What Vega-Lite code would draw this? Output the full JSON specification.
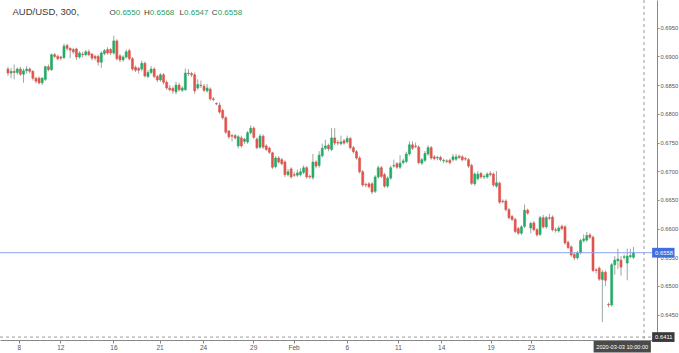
{
"$schema":"https://vega.github.io/schema/vega-lite/v6.json",
"width":657,"height":340,
"autosize":{"type":"none"},
"padding":{"left":0,"top":0,"right":22,"bottom":13},
"background":"white",
"config":{"view":{"stroke":null},"font":"Liberation Sans","axis":{"labelOverlap":false,"labelFlush":false,"labelBound":false}},
"title":{"text":"AUD/USD, 300,","anchor":"start","fontSize":9.5,"fontWeight":"normal","color":"#3a3a3a","offset":-17,"dx":13,"font":"Liberation Sans"},
"datasets":{"candles":[
{"i":0,"o":0.6878,"h":0.6882,"l":0.6866,"c":0.6871},
{"i":1,"o":0.6871,"h":0.6880,"l":0.6862,"c":0.6874},
{"i":2,"o":0.6874,"h":0.6886,"l":0.6860,"c":0.6872},
{"i":3,"o":0.6872,"h":0.6881,"l":0.6868,"c":0.6878},
{"i":4,"o":0.6878,"h":0.6882,"l":0.6866,"c":0.6869},
{"i":5,"o":0.6869,"h":0.6879,"l":0.6854,"c":0.6875},
{"i":6,"o":0.6875,"h":0.6883,"l":0.6870,"c":0.6878},
{"i":7,"o":0.6878,"h":0.6881,"l":0.6870,"c":0.6874},
{"i":8,"o":0.6874,"h":0.6876,"l":0.6858,"c":0.6862},
{"i":9,"o":0.6862,"h":0.6864,"l":0.6853,"c":0.6857},
{"i":10,"o":0.6862,"h":0.6865,"l":0.6851,"c":0.6854},
{"i":11,"o":0.6854,"h":0.6864,"l":0.6850,"c":0.6862},
{"i":12,"o":0.6860,"h":0.6884,"l":0.6857,"c":0.6882},
{"i":13,"o":0.6882,"h":0.6886,"l":0.6874,"c":0.6877},
{"i":14,"o":0.6877,"h":0.6905,"l":0.6875,"c":0.6903},
{"i":15,"o":0.6903,"h":0.6906,"l":0.6897,"c":0.6900},
{"i":16,"o":0.6900,"h":0.6903,"l":0.6893,"c":0.6896},
{"i":17,"o":0.6899,"h":0.6901,"l":0.6893,"c":0.6897},
{"i":18,"o":0.6898,"h":0.6922,"l":0.6895,"c":0.6918},
{"i":19,"o":0.6919,"h":0.6922,"l":0.6910,"c":0.6914},
{"i":20,"o":0.6914,"h":0.6916,"l":0.6897,"c":0.6911},
{"i":21,"o":0.6912,"h":0.6915,"l":0.6904,"c":0.6908},
{"i":22,"o":0.6913,"h":0.6915,"l":0.6894,"c":0.6899},
{"i":23,"o":0.6899,"h":0.6909,"l":0.6896,"c":0.6906},
{"i":24,"o":0.6904,"h":0.6908,"l":0.6898,"c":0.6903},
{"i":25,"o":0.6903,"h":0.6911,"l":0.6900,"c":0.6908},
{"i":26,"o":0.6908,"h":0.6912,"l":0.6900,"c":0.6903},
{"i":27,"o":0.6904,"h":0.6906,"l":0.6893,"c":0.6897},
{"i":28,"o":0.6900,"h":0.6903,"l":0.6893,"c":0.6897},
{"i":29,"o":0.6900,"h":0.6903,"l":0.6884,"c":0.6890},
{"i":30,"o":0.6890,"h":0.6909,"l":0.6880,"c":0.6906},
{"i":31,"o":0.6905,"h":0.6913,"l":0.6902,"c":0.6910},
{"i":32,"o":0.6912,"h":0.6916,"l":0.6903,"c":0.6906},
{"i":33,"o":0.6912,"h":0.6915,"l":0.6902,"c":0.6906},
{"i":34,"o":0.6906,"h":0.6936,"l":0.6903,"c":0.6927},
{"i":35,"o":0.6927,"h":0.6930,"l":0.6893,"c":0.6896},
{"i":36,"o":0.6901,"h":0.6904,"l":0.6890,"c":0.6894},
{"i":37,"o":0.6894,"h":0.6902,"l":0.6891,"c":0.6899},
{"i":38,"o":0.6899,"h":0.6912,"l":0.6896,"c":0.6908},
{"i":39,"o":0.6910,"h":0.6913,"l":0.6893,"c":0.6896},
{"i":40,"o":0.6896,"h":0.6899,"l":0.6875,"c":0.6878},
{"i":41,"o":0.6881,"h":0.6884,"l":0.6873,"c":0.6876},
{"i":42,"o":0.6879,"h":0.6882,"l":0.6870,"c":0.6876},
{"i":43,"o":0.6878,"h":0.6893,"l":0.6874,"c":0.6888},
{"i":44,"o":0.6888,"h":0.6891,"l":0.6863,"c":0.6866},
{"i":45,"o":0.6865,"h":0.6876,"l":0.6862,"c":0.6872},
{"i":46,"o":0.6872,"h":0.6883,"l":0.6869,"c":0.6878},
{"i":47,"o":0.6878,"h":0.6881,"l":0.6862,"c":0.6865},
{"i":48,"o":0.6865,"h":0.6868,"l":0.6855,"c":0.6859},
{"i":49,"o":0.6859,"h":0.6871,"l":0.6856,"c":0.6868},
{"i":50,"o":0.6868,"h":0.6871,"l":0.6851,"c":0.6855},
{"i":51,"o":0.6855,"h":0.6858,"l":0.6842,"c":0.6845},
{"i":52,"o":0.6845,"h":0.6850,"l":0.6839,"c":0.6842},
{"i":53,"o":0.6844,"h":0.6848,"l":0.6835,"c":0.6840},
{"i":54,"o":0.6838,"h":0.6856,"l":0.6834,"c":0.6850},
{"i":55,"o":0.6850,"h":0.6854,"l":0.6839,"c":0.6842},
{"i":56,"o":0.6841,"h":0.6848,"l":0.6838,"c":0.6845},
{"i":57,"o":0.6842,"h":0.6879,"l":0.6840,"c":0.6871},
{"i":58,"o":0.6871,"h":0.6878,"l":0.6866,"c":0.6870},
{"i":59,"o":0.6870,"h":0.6873,"l":0.6864,"c":0.6868},
{"i":60,"o":0.6868,"h":0.6872,"l":0.6835,"c":0.6840},
{"i":61,"o":0.6845,"h":0.6860,"l":0.6842,"c":0.6851},
{"i":62,"o":0.6850,"h":0.6858,"l":0.6845,"c":0.6849},
{"i":63,"o":0.6848,"h":0.6852,"l":0.6838,"c":0.6841},
{"i":64,"o":0.6840,"h":0.6852,"l":0.6837,"c":0.6845},
{"i":65,"o":0.6843,"h":0.6846,"l":0.6823,"c":0.6826},
{"i":66,"o":0.6826,"h":0.6829,"l":0.6822,"c":0.6825},
{"i":67,"o":0.6818,"h":0.6820,"l":0.6815,"c":0.6817},
{"i":68,"o":0.6815,"h":0.6820,"l":0.6800,"c":0.6803},
{"i":69,"o":0.6806,"h":0.6809,"l":0.6790,"c":0.6793},
{"i":70,"o":0.6793,"h":0.6796,"l":0.6765,"c":0.6768},
{"i":71,"o":0.6770,"h":0.6772,"l":0.6756,"c":0.6760},
{"i":72,"o":0.6762,"h":0.6765,"l":0.6752,"c":0.6761},
{"i":73,"o":0.6762,"h":0.6765,"l":0.6755,"c":0.6758},
{"i":74,"o":0.6744,"h":0.6763,"l":0.6740,"c":0.6760},
{"i":75,"o":0.6758,"h":0.6762,"l":0.6741,"c":0.6744},
{"i":76,"o":0.6752,"h":0.6758,"l":0.6748,"c":0.6756},
{"i":77,"o":0.6751,"h":0.6770,"l":0.6748,"c":0.6767},
{"i":78,"o":0.6767,"h":0.6780,"l":0.6764,"c":0.6775},
{"i":79,"o":0.6775,"h":0.6778,"l":0.6756,"c":0.6759},
{"i":80,"o":0.6756,"h":0.6759,"l":0.6738,"c":0.6741},
{"i":81,"o":0.6742,"h":0.6765,"l":0.6739,"c":0.6761},
{"i":82,"o":0.6761,"h":0.6764,"l":0.6739,"c":0.6742},
{"i":83,"o":0.6744,"h":0.6747,"l":0.6735,"c":0.6738},
{"i":84,"o":0.6740,"h":0.6743,"l":0.6730,"c":0.6733},
{"i":85,"o":0.6732,"h":0.6734,"l":0.6704,"c":0.6707},
{"i":86,"o":0.6708,"h":0.6726,"l":0.6705,"c":0.6723},
{"i":87,"o":0.6723,"h":0.6726,"l":0.6713,"c":0.6716},
{"i":88,"o":0.6720,"h":0.6723,"l":0.6710,"c":0.6713},
{"i":89,"o":0.6716,"h":0.6719,"l":0.6690,"c":0.6694},
{"i":90,"o":0.6694,"h":0.6704,"l":0.6691,"c":0.6699},
{"i":91,"o":0.6704,"h":0.6707,"l":0.6687,"c":0.6690},
{"i":92,"o":0.6694,"h":0.6699,"l":0.6690,"c":0.6693},
{"i":93,"o":0.6693,"h":0.6703,"l":0.6690,"c":0.6697},
{"i":94,"o":0.6694,"h":0.6705,"l":0.6691,"c":0.6699},
{"i":95,"o":0.6698,"h":0.6710,"l":0.6695,"c":0.6706},
{"i":96,"o":0.6706,"h":0.6709,"l":0.6687,"c":0.6690},
{"i":97,"o":0.6691,"h":0.6694,"l":0.6687,"c":0.6690},
{"i":98,"o":0.6689,"h":0.6730,"l":0.6685,"c":0.6716},
{"i":99,"o":0.6716,"h":0.6719,"l":0.6705,"c":0.6709},
{"i":100,"o":0.6710,"h":0.6735,"l":0.6706,"c":0.6728},
{"i":101,"o":0.6727,"h":0.6748,"l":0.6724,"c":0.6740},
{"i":102,"o":0.6740,"h":0.6755,"l":0.6737,"c":0.6744},
{"i":103,"o":0.6745,"h":0.6748,"l":0.6735,"c":0.6739},
{"i":104,"o":0.6738,"h":0.6775,"l":0.6735,"c":0.6758},
{"i":105,"o":0.6758,"h":0.6775,"l":0.6745,"c":0.6749},
{"i":106,"o":0.6750,"h":0.6754,"l":0.6745,"c":0.6749},
{"i":107,"o":0.6748,"h":0.6762,"l":0.6745,"c":0.6751},
{"i":108,"o":0.6753,"h":0.6756,"l":0.6746,"c":0.6749},
{"i":109,"o":0.6751,"h":0.6762,"l":0.6748,"c":0.6757},
{"i":110,"o":0.6757,"h":0.6760,"l":0.6738,"c":0.6741},
{"i":111,"o":0.6741,"h":0.6744,"l":0.6731,"c":0.6734},
{"i":112,"o":0.6734,"h":0.6737,"l":0.6720,"c":0.6723},
{"i":113,"o":0.6723,"h":0.6726,"l":0.6696,"c":0.6699},
{"i":114,"o":0.6699,"h":0.6702,"l":0.6673,"c":0.6676},
{"i":115,"o":0.6677,"h":0.6680,"l":0.6672,"c":0.6676},
{"i":116,"o":0.6678,"h":0.6681,"l":0.6670,"c":0.6673},
{"i":117,"o":0.6678,"h":0.6681,"l":0.6660,"c":0.6664},
{"i":118,"o":0.6665,"h":0.6693,"l":0.6662,"c":0.6690},
{"i":119,"o":0.6690,"h":0.6710,"l":0.6687,"c":0.6706},
{"i":120,"o":0.6706,"h":0.6709,"l":0.6688,"c":0.6691},
{"i":121,"o":0.6694,"h":0.6697,"l":0.6671,"c":0.6674},
{"i":122,"o":0.6674,"h":0.6691,"l":0.6671,"c":0.6688},
{"i":123,"o":0.6688,"h":0.6710,"l":0.6685,"c":0.6706},
{"i":124,"o":0.6709,"h":0.6720,"l":0.6706,"c":0.6710},
{"i":125,"o":0.6713,"h":0.6716,"l":0.6704,"c":0.6707},
{"i":126,"o":0.6707,"h":0.6728,"l":0.6704,"c":0.6714},
{"i":127,"o":0.6715,"h":0.6722,"l":0.6712,"c":0.6718},
{"i":128,"o":0.6717,"h":0.6734,"l":0.6714,"c":0.6730},
{"i":129,"o":0.6730,"h":0.6752,"l":0.6727,"c":0.6746},
{"i":130,"o":0.6746,"h":0.6752,"l":0.6737,"c":0.6740},
{"i":131,"o":0.6744,"h":0.6750,"l":0.6740,"c":0.6743},
{"i":132,"o":0.6742,"h":0.6745,"l":0.6712,"c":0.6715},
{"i":133,"o":0.6714,"h":0.6723,"l":0.6711,"c":0.6720},
{"i":134,"o":0.6719,"h":0.6735,"l":0.6716,"c":0.6731},
{"i":135,"o":0.6730,"h":0.6745,"l":0.6727,"c":0.6741},
{"i":136,"o":0.6741,"h":0.6744,"l":0.6720,"c":0.6723},
{"i":137,"o":0.6725,"h":0.6728,"l":0.6719,"c":0.6722},
{"i":138,"o":0.6723,"h":0.6727,"l":0.6719,"c":0.6724},
{"i":139,"o":0.6724,"h":0.6727,"l":0.6717,"c":0.6720},
{"i":140,"o":0.6718,"h":0.6722,"l":0.6714,"c":0.6719},
{"i":141,"o":0.6718,"h":0.6721,"l":0.6714,"c":0.6717},
{"i":142,"o":0.6719,"h":0.6722,"l":0.6712,"c":0.6715},
{"i":143,"o":0.6720,"h":0.6730,"l":0.6717,"c":0.6725},
{"i":144,"o":0.6721,"h":0.6730,"l":0.6718,"c":0.6725},
{"i":145,"o":0.6726,"h":0.6729,"l":0.6721,"c":0.6724},
{"i":146,"o":0.6725,"h":0.6728,"l":0.6717,"c":0.6720},
{"i":147,"o":0.6722,"h":0.6725,"l":0.6718,"c":0.6721},
{"i":148,"o":0.6720,"h":0.6723,"l":0.6706,"c":0.6709},
{"i":149,"o":0.6710,"h":0.6713,"l":0.6676,"c":0.6679},
{"i":150,"o":0.6678,"h":0.6698,"l":0.6675,"c":0.6695},
{"i":151,"o":0.6687,"h":0.6700,"l":0.6684,"c":0.6695},
{"i":152,"o":0.6696,"h":0.6699,"l":0.6687,"c":0.6690},
{"i":153,"o":0.6690,"h":0.6694,"l":0.6686,"c":0.6691},
{"i":154,"o":0.6690,"h":0.6698,"l":0.6687,"c":0.6695},
{"i":155,"o":0.6696,"h":0.6700,"l":0.6691,"c":0.6694},
{"i":156,"o":0.6695,"h":0.6698,"l":0.6673,"c":0.6676},
{"i":157,"o":0.6674,"h":0.6700,"l":0.6671,"c":0.6680},
{"i":158,"o":0.6679,"h":0.6682,"l":0.6643,"c":0.6646},
{"i":159,"o":0.6648,"h":0.6651,"l":0.6644,"c":0.6647},
{"i":160,"o":0.6648,"h":0.6651,"l":0.6630,"c":0.6633},
{"i":161,"o":0.6633,"h":0.6636,"l":0.6616,"c":0.6619},
{"i":162,"o":0.6621,"h":0.6624,"l":0.6613,"c":0.6616},
{"i":163,"o":0.6616,"h":0.6619,"l":0.6592,"c":0.6595},
{"i":164,"o":0.6600,"h":0.6603,"l":0.6589,"c":0.6592},
{"i":165,"o":0.6592,"h":0.6606,"l":0.6589,"c":0.6603},
{"i":166,"o":0.6604,"h":0.6642,"l":0.6601,"c":0.6632},
{"i":167,"o":0.6632,"h":0.6635,"l":0.6624,"c":0.6627},
{"i":168,"o":0.6601,"h":0.6612,"l":0.6592,"c":0.6609},
{"i":169,"o":0.6610,"h":0.6613,"l":0.6595,"c":0.6598},
{"i":170,"o":0.6598,"h":0.6601,"l":0.6586,"c":0.6589},
{"i":171,"o":0.6590,"h":0.6622,"l":0.6587,"c":0.6619},
{"i":172,"o":0.6619,"h":0.6624,"l":0.6600,"c":0.6603},
{"i":173,"o":0.6603,"h":0.6622,"l":0.6600,"c":0.6619},
{"i":174,"o":0.6619,"h":0.6626,"l":0.6615,"c":0.6618},
{"i":175,"o":0.6620,"h":0.6623,"l":0.6595,"c":0.6598},
{"i":176,"o":0.6598,"h":0.6602,"l":0.6593,"c":0.6597},
{"i":177,"o":0.6596,"h":0.6605,"l":0.6593,"c":0.6601},
{"i":178,"o":0.6604,"h":0.6607,"l":0.6597,"c":0.6600},
{"i":179,"o":0.6603,"h":0.6606,"l":0.6572,"c":0.6575},
{"i":180,"o":0.6576,"h":0.6579,"l":0.6564,"c":0.6567},
{"i":181,"o":0.6568,"h":0.6571,"l":0.6551,"c":0.6554},
{"i":182,"o":0.6555,"h":0.6558,"l":0.6545,"c":0.6549},
{"i":183,"o":0.6549,"h":0.6561,"l":0.6546,"c":0.6558},
{"i":184,"o":0.6558,"h":0.6582,"l":0.6555,"c":0.6579},
{"i":185,"o":0.6579,"h":0.6590,"l":0.6576,"c":0.6582},
{"i":186,"o":0.6580,"h":0.6594,"l":0.6577,"c":0.6588},
{"i":187,"o":0.6589,"h":0.6592,"l":0.6582,"c":0.6585},
{"i":188,"o":0.6585,"h":0.6588,"l":0.6524,"c":0.6527},
{"i":189,"o":0.6528,"h":0.6531,"l":0.6522,"c":0.6527},
{"i":190,"o":0.6531,"h":0.6534,"l":0.6509,"c":0.6512},
{"i":191,"o":0.6511,"h":0.6528,"l":0.6437,"c":0.6524},
{"i":192,"o":0.6524,"h":0.6527,"l":0.6500,"c":0.6510},
{"i":193,"o":0.6468,"h":0.6471,"l":0.6463,"c":0.6467},
{"i":194,"o":0.6467,"h":0.6540,"l":0.6464,"c":0.6537},
{"i":195,"o":0.6537,"h":0.6552,"l":0.6520,"c":0.6545},
{"i":196,"o":0.6544,"h":0.6565,"l":0.6530,"c":0.6547},
{"i":197,"o":0.6545,"h":0.6552,"l":0.6518,"c":0.6533},
{"i":198,"o":0.6550,"h":0.6555,"l":0.6546,"c":0.6551},
{"i":199,"o":0.6540,"h":0.6565,"l":0.6510,"c":0.6552},
{"i":200,"o":0.6551,"h":0.6565,"l":0.6548,"c":0.6553},
{"i":201,"o":0.6550,"h":0.6568,"l":0.6547,"c":0.6558}
],"one":[{"k":1}]},
"layer":[
{"data":{"name":"candles"},"mark":{"type":"rule","color":"#9aa8a0","strokeWidth":1},
 "encoding":{
  "x":{"field":"i","type":"quantitative","scale":{"domain":[-0.95,206.96],"nice":false,"zero":false},
   "axis":{"orient":"bottom","title":null,"grid":false,"tickCount":30,"values":[3.5,16.8,33.9,48.7,62.7,78.8,91.8,108.9,125.3,139.2,155.1,168.0],
    "labelExpr":"datum.value<10?'8':datum.value<25?'12':datum.value<40?'16':datum.value<55?'21':datum.value<70?'24':datum.value<85?'29':datum.value<100?'Feb':datum.value<115?'6':datum.value<130?'11':datum.value<145?'14':datum.value<160?'19':'23'",
    "labelOverlap":false,"labelFlush":false,"labelFontSize":6.5,"labelColor":"#555555","labelPadding":1,"tickSize":3,"tickColor":"#888888","domainColor":"#888888","domainWidth":1}},
  "y":{"field":"l","type":"quantitative","scale":{"domain":[0.64059,0.69983],"nice":false,"zero":false},
   "axis":{"orient":"right","title":null,"grid":false,"tickCount":30,"values":[0.645,0.65,0.655,0.66,0.665,0.67,0.675,0.68,0.685,0.69,0.695],"format":".4f",
    "labelFontSize":5.8,"labelColor":"#555555","labelPadding":1,"tickSize":2,"tickColor":"#888888","domainColor":"#888888","labelFlush":false,"labelOverlap":false}},
  "y2":{"field":"h"}}},
{"data":{"name":"candles"},"mark":{"type":"bar","size":2,"strokeWidth":0.6},
 "encoding":{
  "x":{"field":"i","type":"quantitative"},
  "y":{"field":"o","type":"quantitative"},
  "y2":{"field":"c"},
  "color":{"condition":{"test":"datum.c>=datum.o","value":"#22ab64"},"value":"#e2534b"},
  "stroke":{"condition":{"test":"datum.c>=datum.o","value":"#22ab64"},"value":"#e2534b"}}},
{"data":{"name":"one"},"mark":{"type":"rule","color":"#8aa4f0","strokeWidth":1},"encoding":{"y":{"datum":0.6558}}},
{"data":{"name":"one"},"mark":{"type":"rule","color":"#9a9a9a","strokeWidth":1,"strokeDash":[3,3]},"encoding":{"y":{"datum":0.6411}}},
{"data":{"name":"one"},"mark":{"type":"rule","color":"#9a9a9a","strokeWidth":1,"strokeDash":[3,3]},"encoding":{"x":{"datum":204.4}}},
{"data":{"name":"one"},"mark":{"type":"rect","color":"#4070e0"},"encoding":{"x":{"datum":207.0},"x2":{"datum":214.2},"y":{"datum":0.65665},"y2":{"datum":0.65495}}},
{"data":{"name":"one"},"mark":{"type":"text","color":"white","fontSize":5.8,"align":"left","baseline":"middle","dx":3},"encoding":{"x":{"datum":207.0},"y":{"datum":0.6558},"text":{"value":"0.6558"}}},
{"data":{"name":"one"},"mark":{"type":"rect","color":"#3a3a3a"},"encoding":{"x":{"datum":207.0},"x2":{"datum":214.2},"y":{"datum":0.64195},"y2":{"datum":0.64025}}},
{"data":{"name":"one"},"mark":{"type":"text","color":"white","fontSize":5.8,"align":"left","baseline":"middle","dx":3},"encoding":{"x":{"datum":207.0},"y":{"datum":0.6411},"text":{"value":"0.6411"}}},
{"data":{"name":"one"},"mark":{"type":"rect","color":"#4a4a4a"},"encoding":{"x":{"datum":188.2},"x2":{"datum":206.6},"y":{"datum":0.6404},"y2":{"datum":0.6384}}},
{"data":{"name":"one"},"mark":{"type":"text","color":"white","fontSize":5.6,"align":"center","baseline":"middle"},"encoding":{"x":{"datum":197.4},"y":{"datum":0.6394},"text":{"value":"2020-03-03 10:00:00"}}},
{"data":{"name":"one"},"mark":{"type":"text","color":"#3a3a3a","fontSize":8,"align":"left","baseline":"middle"},"encoding":{"x":{"datum":32.6},"y":{"datum":0.6976},"text":{"value":"O"}}},
{"data":{"name":"one"},"mark":{"type":"text","color":"#2a9d62","fontSize":8,"align":"left","baseline":"middle","dx":6.3},"encoding":{"x":{"datum":32.6},"y":{"datum":0.6976},"text":{"value":"0.6550"}}},
{"data":{"name":"one"},"mark":{"type":"text","color":"#3a3a3a","fontSize":8,"align":"left","baseline":"middle"},"encoding":{"x":{"datum":43.7},"y":{"datum":0.6976},"text":{"value":"H"}}},
{"data":{"name":"one"},"mark":{"type":"text","color":"#2a9d62","fontSize":8,"align":"left","baseline":"middle","dx":5.9},"encoding":{"x":{"datum":43.7},"y":{"datum":0.6976},"text":{"value":"0.6568"}}},
{"data":{"name":"one"},"mark":{"type":"text","color":"#3a3a3a","fontSize":8,"align":"left","baseline":"middle"},"encoding":{"x":{"datum":55.1},"y":{"datum":0.6976},"text":{"value":"L"}}},
{"data":{"name":"one"},"mark":{"type":"text","color":"#2a9d62","fontSize":8,"align":"left","baseline":"middle","dx":4.6},"encoding":{"x":{"datum":55.1},"y":{"datum":0.6976},"text":{"value":"0.6547"}}},
{"data":{"name":"one"},"mark":{"type":"text","color":"#3a3a3a","fontSize":8,"align":"left","baseline":"middle"},"encoding":{"x":{"datum":65.5},"y":{"datum":0.6976},"text":{"value":"C"}}},
{"data":{"name":"one"},"mark":{"type":"text","color":"#2a9d62","fontSize":8,"align":"left","baseline":"middle","dx":5.9},"encoding":{"x":{"datum":65.5},"y":{"datum":0.6976},"text":{"value":"0.6558"}}}
]
}
